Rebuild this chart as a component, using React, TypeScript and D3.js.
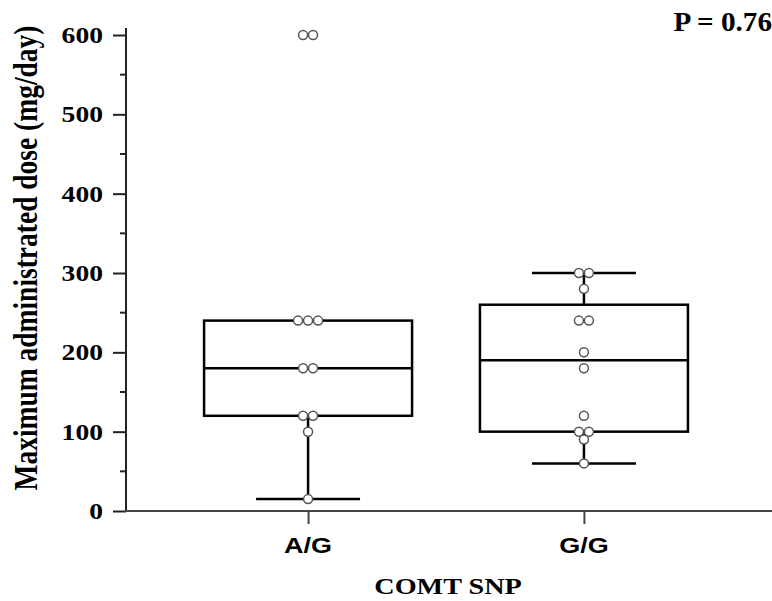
import React, { useEffect, useRef } from 'react';
import * as d3 from 'd3';

const groups = ['A/G', 'G/G'];
const agValues = [600, 600, 240, 240, 240, 180, 180, 120, 120, 100, 15];
const ggValues = [300, 300, 280, 240, 240, 200, 180, 120, 100, 100, 90, 60];
// box stats: [whiskerLow, q1, median, q3, whiskerHigh]
const agBox = [15, 120, 180, 240, 240];
const ggBox = [60, 100, 190, 260, 300];
const yTicks = [0, 100, 200, 300, 400, 500, 600];
const yMinor = [50, 150, 250, 350, 450, 550];

const W = 772;
const H = 601;

const App = () => {
  const ref = useRef<SVGSVGElement>(null);

  useEffect(() => {
    const svg = d3.select(ref.current);
    svg.selectAll('*').remove();

    const x = d3.scalePoint().domain(groups).range([126, 766]).padding(0.66);
    const y = d3.scaleLinear().domain([0, 600]).range([511, 35]);

    const serif = '"Liberation Serif", "Times New Roman", serif';
    const sans = '"Liberation Sans", Arial, sans-serif';
    const stretch = 1.2; // the original text is a bit wider than the fonts here

    // y axis
    const gy = svg.append('g').attr('transform', 'translate(126,0)');
    gy.call(d3.axisLeft(y).tickValues(yTicks).tickSize(13).tickSizeOuter(0).tickFormat(() => ''));
    gy.select('.domain').remove();
    gy.selectAll('.tick line').attr('stroke', '#222').attr('stroke-width', 2);
    gy.selectAll('.minor')
      .data(yMinor)
      .enter()
      .append('line')
      .attr('x1', -6)
      .attr('x2', 0)
      .attr('y1', (d) => y(d))
      .attr('y2', (d) => y(d))
      .attr('stroke', '#222')
      .attr('stroke-width', 2);
    svg.append('line')
      .attr('x1', 126).attr('x2', 126)
      .attr('y1', 28).attr('y2', 512)
      .attr('stroke', '#222').attr('stroke-width', 2);
    svg.append('g')
      .selectAll('text')
      .data(yTicks)
      .enter()
      .append('text')
      .attr('transform', (d) => `translate(103,${y(d) + 8}) scale(${stretch},1)`)
      .attr('text-anchor', 'end')
      .attr('font-family', serif)
      .attr('font-weight', 'bold')
      .attr('font-size', 23)
      .text((d) => d);

    // x axis
    const gx = svg.append('g').attr('transform', 'translate(0,511)');
    gx.call(d3.axisBottom(x).tickSize(13).tickSizeOuter(0).tickFormat(() => ''));
    gx.select('.domain').remove();
    gx.selectAll('.tick line').attr('stroke', '#444').attr('stroke-width', 2);
    svg.append('line')
      .attr('x1', 125).attr('x2', W)
      .attr('y1', 511).attr('y2', 511)
      .attr('stroke', '#444').attr('stroke-width', 2);
    svg.append('g')
      .selectAll('text')
      .data(groups)
      .enter()
      .append('text')
      .attr('transform', (d) => `translate(${x(d)},553) scale(${stretch},1)`)
      .attr('text-anchor', 'middle')
      .attr('font-family', sans)
      .attr('font-weight', 'bold')
      .attr('font-size', 22.5)
      .text((d) => d);

    // boxes
    const boxes = [
      { name: 'A/G', s: agBox },
      { name: 'G/G', s: ggBox },
    ];
    const half = 104;
    const cap = 52;
    boxes.forEach((b) => {
      const cx = x(b.name) as number;
      const g = svg.append('g').attr('stroke', '#000').attr('fill', 'none').attr('stroke-width', 2.5);
      const [lo, q1, med, q3, hi] = b.s;
      g.append('line').attr('x1', cx).attr('x2', cx).attr('y1', y(q1)).attr('y2', y(lo));
      g.append('line').attr('x1', cx).attr('x2', cx).attr('y1', y(q3)).attr('y2', y(hi));
      if (lo < q1) g.append('line').attr('x1', cx - cap).attr('x2', cx + cap).attr('y1', y(lo)).attr('y2', y(lo));
      if (hi > q3) g.append('line').attr('x1', cx - cap).attr('x2', cx + cap).attr('y1', y(hi)).attr('y2', y(hi));
      g.append('rect')
        .attr('x', cx - half)
        .attr('width', half * 2)
        .attr('y', y(q3))
        .attr('height', y(q1) - y(q3));
      g.append('line').attr('x1', cx - half).attr('x2', cx + half).attr('y1', y(med)).attr('y2', y(med));
    });

    // points, duplicates spread sideways
    const series = [
      { name: 'A/G', v: agValues },
      { name: 'G/G', v: ggValues },
    ];
    series.forEach((s) => {
      const cx = x(s.name) as number;
      const counts = d3.rollup(s.v, (v) => v.length, (d) => d);
      const seen = new Map<number, number>();
      const pts = s.v.map((d) => {
        const n = counts.get(d) as number;
        const i = seen.get(d) || 0;
        seen.set(d, i + 1);
        return { v: d, dx: (i - (n - 1) / 2) * 10 };
      });
      svg.append('g')
        .selectAll('circle')
        .data(pts)
        .enter()
        .append('circle')
        .attr('cx', (d) => cx + d.dx)
        .attr('cy', (d) => y(d.v))
        .attr('r', 4.5)
        .attr('fill', '#fff')
        .attr('stroke', '#555')
        .attr('stroke-width', 1.5);
    });

    // labels
    svg.append('text')
      .attr('transform', `translate(37,258) rotate(-90) scale(1,${stretch})`)
      .attr('text-anchor', 'middle')
      .attr('font-family', serif)
      .attr('font-weight', 'bold')
      .attr('font-size', 27.5)
      .text('Maximum administrated dose (mg/day)');

    svg.append('text')
      .attr('transform', `translate(448,594) scale(${stretch},1)`)
      .attr('text-anchor', 'middle')
      .attr('font-family', serif)
      .attr('font-weight', 'bold')
      .attr('font-size', 23.5)
      .text('COMT SNP');

    svg.append('text')
      .attr('transform', 'translate(772,31) scale(1.08,1)')
      .attr('text-anchor', 'end')
      .attr('font-family', serif)
      .attr('font-weight', 'bold')
      .attr('font-size', 27)
      .text('P = 0.76');
  }, []);

  return (
    <svg
      ref={ref}
      width={W}
      height={H}
      style={{ position: 'absolute', left: 0, top: 0, background: '#fff' }}
    />
  );
};

export default App;
